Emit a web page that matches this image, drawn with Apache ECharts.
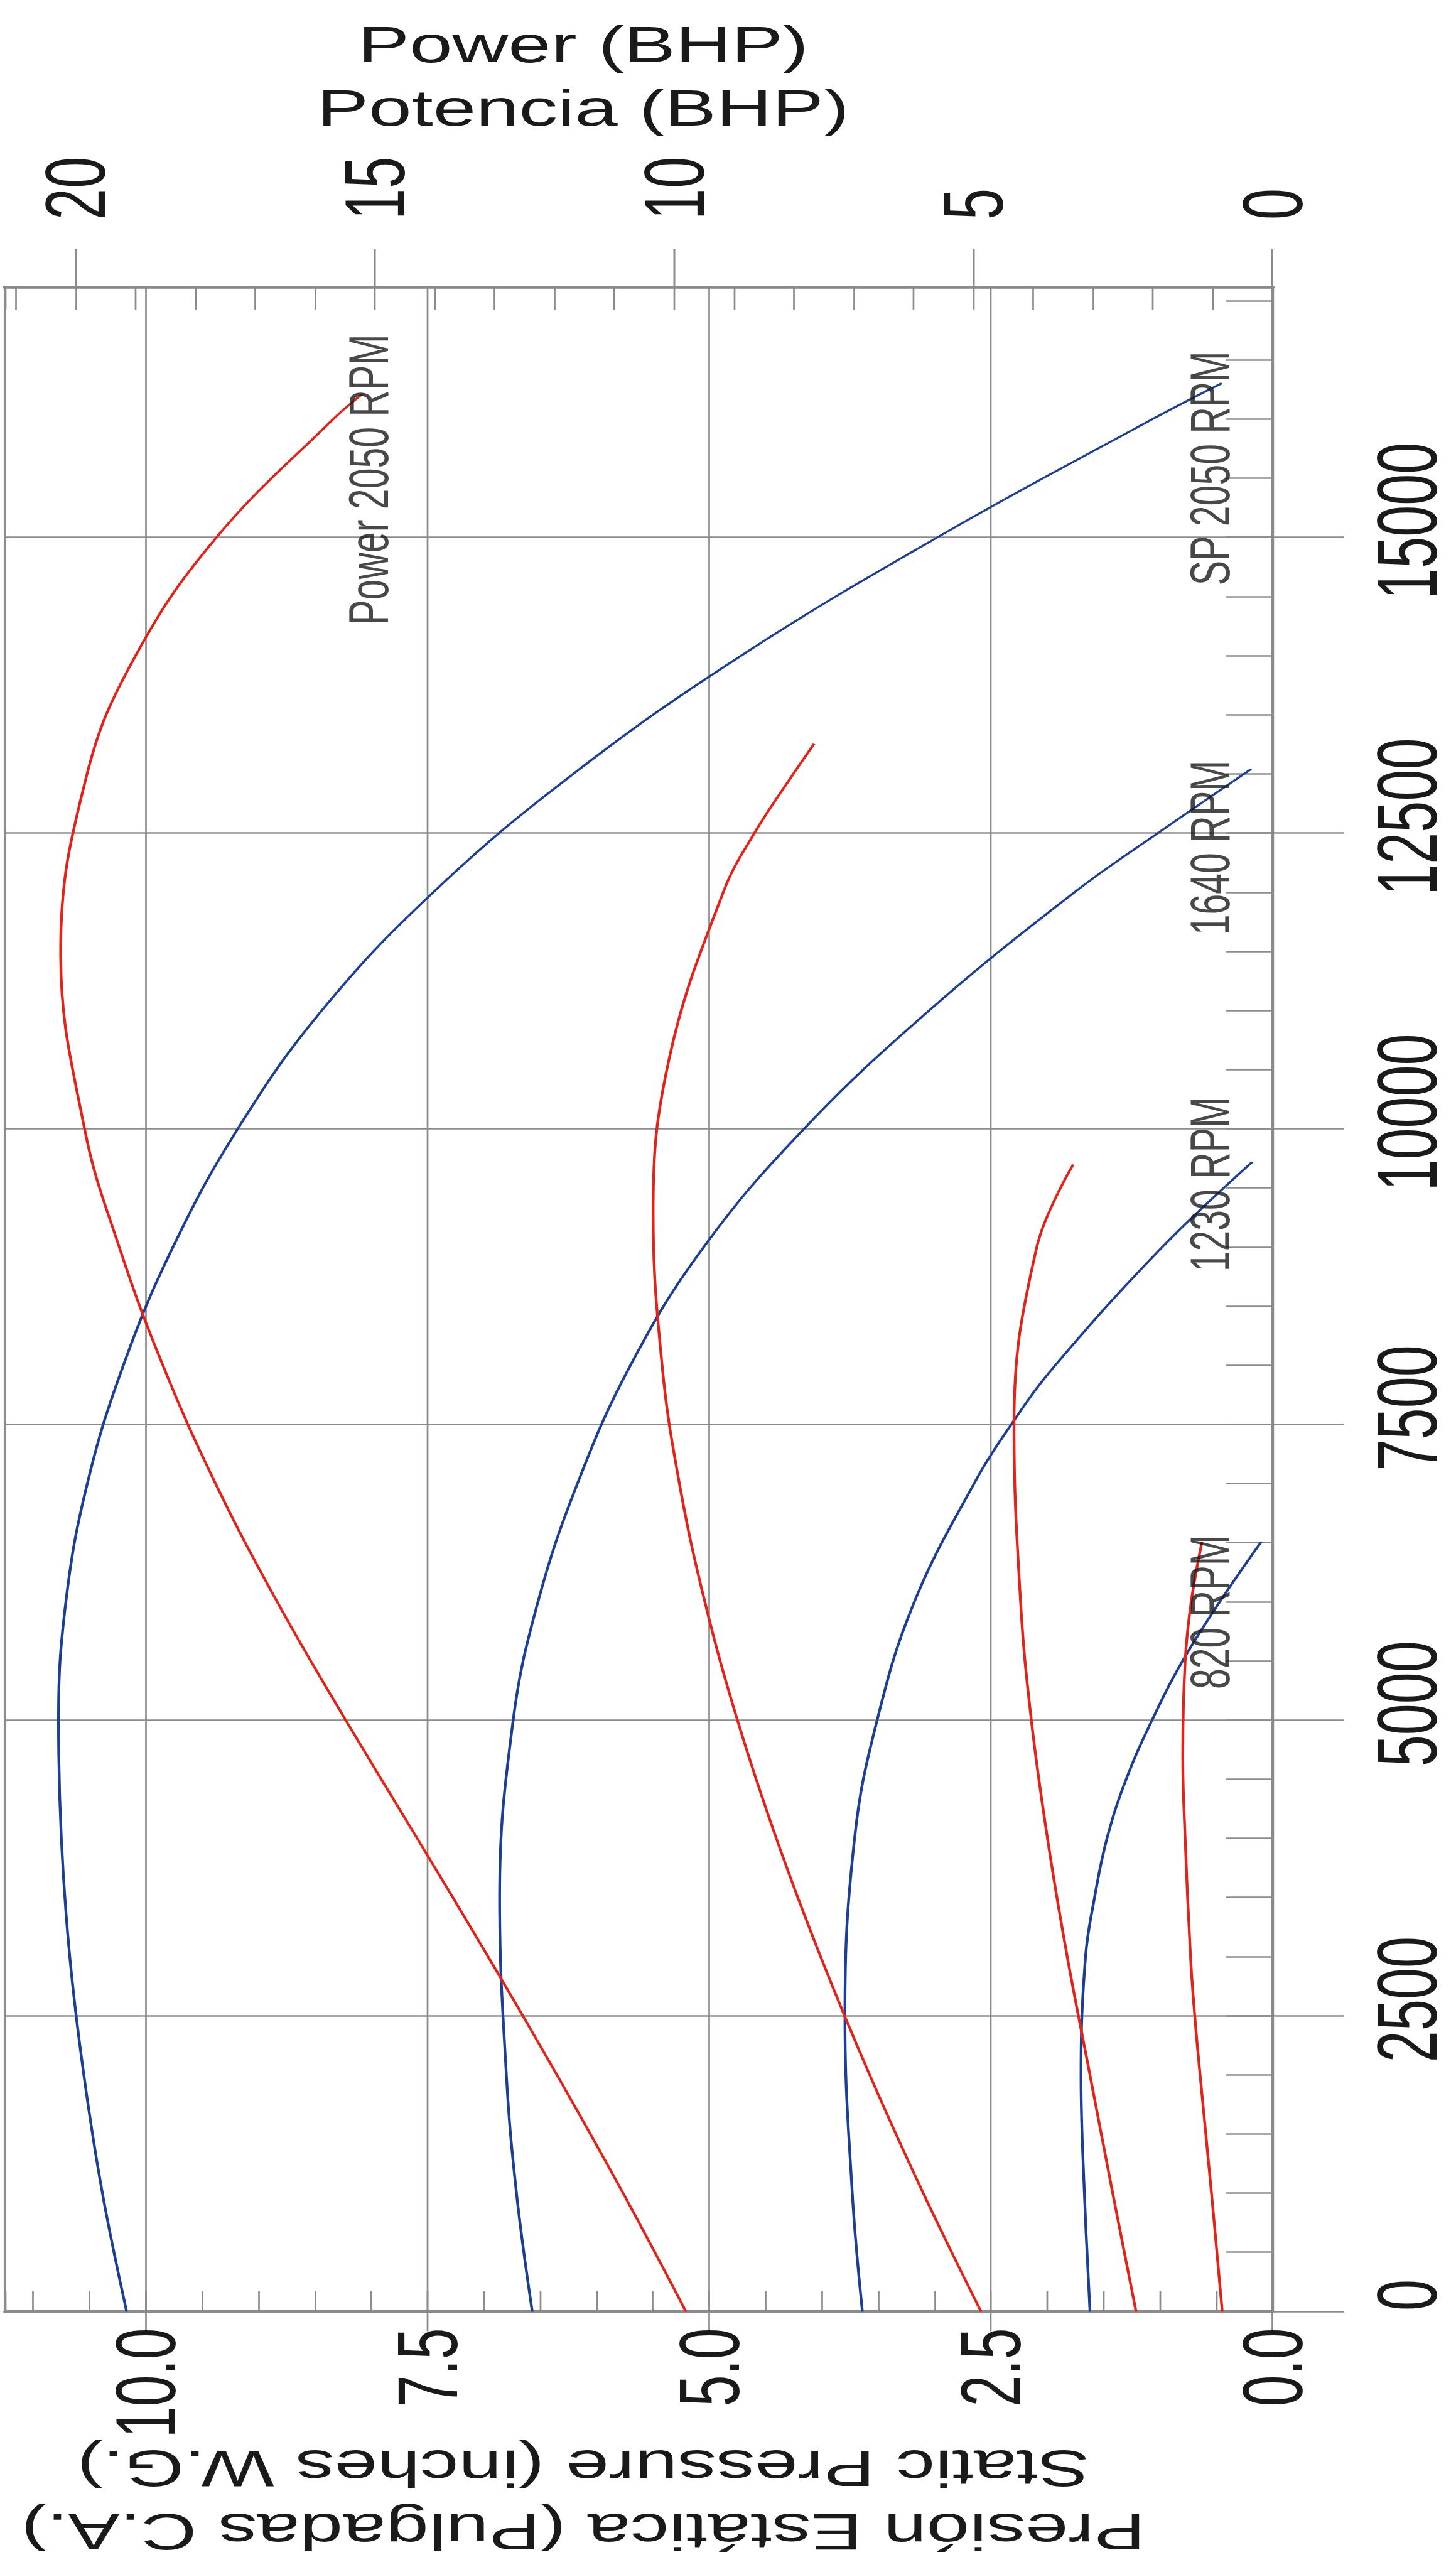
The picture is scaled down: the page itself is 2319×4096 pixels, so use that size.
<!DOCTYPE html>
<html>
<head>
<meta charset="utf-8">
<title>Fan performance curves</title>
<script src="https://cdn.jsdelivr.net/npm/echarts@6/dist/echarts.min.js"></script>
<style>
  html, body { margin: 0; padding: 0; background: #ffffff; overflow: hidden; width: 2319px; height: 4096px; }
  #stage { position: relative; width: 2319px; height: 4096px; overflow: hidden; }
  /* The chart is laid out landscape and turned a quarter turn, stretched across the pressure direction. */
  #chart { position: absolute; left: 0; top: 0; width: 4096px; height: 1546px;
           transform-origin: 0 0; transform: translate(0, 4096px) rotate(-90deg) scaleY(1.5); }
</style>
</head>
<body>
<div id="stage"><div id="chart"></div></div>
<script>
// ---- axis ranges and tick labels ----
const FLOW_MAX = 17115;
const PRESSURE_MAX = 11.25;
const POWER_MAX = 21.18;
const flowTicks = [0, 2500, 5000, 7500, 10000, 12500, 15000];
const pressureTicks = [0, 2.5, 5, 7.5, 10];
const powerTicks = [0, 5, 10, 15, 20];

const pressureTitle = ['Presión Estática (Pulgadas C.A.)', 'Static Pressure (inches W.G.)'];
const powerTitle = ['Power (BHP)', 'Potencia (BHP)'];

// ---- static pressure curves (airflow, inches W.G.) ----
const sp2050Flow = [0, 1000, 2000, 3000, 4000, 5000, 6000, 7000, 8000, 9000, 10000, 11000, 12000, 13000, 14000, 15000, 16000, 16306];
const sp2050 = [10.17, 10.385, 10.55, 10.675, 10.75, 10.775, 10.71, 10.52, 10.20, 9.76, 9.185, 8.44, 7.45, 6.21, 4.72, 2.98, 1.07, 0.45];

const sp1640Flow = [0, 1000, 2000, 3500, 5000, 6000, 7000, 8000, 9000, 10000, 11000, 12000, 12500, 13043];
const sp1640 = [6.57, 6.71, 6.80, 6.86, 6.74, 6.52, 6.17, 5.70, 5.05, 4.16, 3.05, 1.76, 1.02, 0.19];

const sp1230Flow = [0, 1000, 2500, 4000, 5000, 6000, 7000, 7500, 8000, 9000, 9722];
const sp1230 = [3.64, 3.73, 3.795, 3.71, 3.51, 3.18, 2.65, 2.32, 1.93, 0.98, 0.18];

const sp820Flow = [0, 1000, 2000, 3000, 3500, 4000, 4500, 5000, 5500, 6000, 6510];
const sp820 = [1.62, 1.67, 1.70, 1.66, 1.58, 1.47, 1.30, 1.07, 0.80, 0.47, 0.10];

// ---- power curves (airflow, BHP) ----
const pw2050Flow = [0, 1000, 2000, 3000, 4000, 5000, 6000, 7000, 8000, 9000, 10000, 11500, 13000, 14000, 15000, 16000, 16218];
const pw2050 = [9.80, 10.85, 11.955, 13.105, 14.29, 15.485, 16.63, 17.66, 18.54, 19.27, 19.85, 20.25, 19.81, 19.00, 17.65, 15.70, 15.20];

const pw1640Flow = [0, 1000, 2000, 3000, 4000, 5000, 6000, 7000, 8000, 9300, 10600, 12000, 12500, 13000, 13257];
const pw1640 = [4.87, 5.835, 6.73, 7.55, 8.29, 8.94, 9.485, 9.91, 10.20, 10.35, 10.08, 9.18, 8.66, 8.01, 7.66];

const pw1230Flow = [0, 1000, 2000, 3000, 4000, 5000, 6000, 7500, 9000, 9700];
const pw1230 = [2.28, 2.67, 3.05, 3.43, 3.76, 4.03, 4.21, 4.32, 3.94, 3.33];

const pw820Flow = [0, 1000, 2000, 2500, 3000, 4000, 4700, 5500, 6000, 6505];
const pw820 = [0.84, 1.02, 1.21, 1.30, 1.37, 1.46, 1.50, 1.46, 1.36, 1.18];

// ---- curve captions ----
const spLabels = ['SP 2050 RPM', '1640 RPM', '1230 RPM', '820 RPM'];
const powerLabels = ['Power 2050 RPM'];
// where each caption starts: [airflow, axis value at the text's middle]
const captionAnchors = {
  'SP 2050 RPM': [14594, 0.552],
  '1640 RPM': [11636, 0.552],
  '1230 RPM': [8790, 0.552],
  '820 RPM': [5261, 0.552],
  'Power 2050 RPM': [14262, 15.10]
};

// ---- styling ----
const GRAY = '#8b8b8b';
const INK = '#1a1a1a';
const BLUE = '#1c3f94';
const RED = '#e2231a';
const FONT = "'Liberation Sans', Arial, Helvetica, sans-serif";

const zip = (xs, ys) => xs.map((x, i) => [x, ys[i]]);

function curve(name, xs, ys, yAxisIndex, color) {
  return {
    type: 'line', name, xAxisIndex: 0, yAxisIndex,
    data: zip(xs, ys),
    symbol: 'none', smooth: 0.4,
    lineStyle: { color, width: 2.9 },
    silent: true, z: 5
  };
}

function captions(texts, yAxisIndex) {
  return {
    type: 'scatter', xAxisIndex: 0, yAxisIndex,
    symbolSize: 1, itemStyle: { color: 'rgba(0,0,0,0)' },
    data: texts.map(t => ({ name: t, value: captionAnchors[t] })),
    label: {
      show: true, formatter: '{b}', position: 'right', distance: 0,
      fontSize: 59, color: INK, fontFamily: FONT
    },
    silent: true, z: 6
  };
}

const chart = echarts.init(document.getElementById('chart'), null, { renderer: 'svg', width: 4096, height: 1546 });

chart.setOption({
  animation: false,
  backgroundColor: '#ffffff',
  grid: {
    left: 414.6, right: 457.9, top: 5.3, bottom: 194.8,
    show: true, borderColor: GRAY, borderWidth: 2.7, backgroundColor: 'rgba(0,0,0,0)',
    containLabel: false, outerBoundsMode: 'none'
  },
  xAxis: [
    {
      type: 'value', min: 0, max: FLOW_MAX, interval: 2500, position: 'bottom',
      axisLine: { show: true, onZero: false, lineStyle: { color: GRAY, width: 2.6 } },
      axisTick: { show: true, inside: false, length: 75.6, customValues: flowTicks, lineStyle: { color: GRAY, width: 2.7 } },
      axisLabel: {
        show: true, customValues: flowTicks, formatter: v => String(v),
        margin: 98, fontSize: 90, lineHeight: 90, color: INK, fontFamily: FONT, padding: [0, 0, 0, 53]
      },
      splitLine: { show: true, lineStyle: { color: GRAY, width: 2.7 } }
    },
    {
      type: 'value', min: 0, max: FLOW_MAX, interval: 500, position: 'bottom',
      axisLine: { show: false, onZero: false },
      axisTick: { show: true, inside: true, length: 49.5, lineStyle: { color: GRAY, width: 2.7 } },
      axisLabel: { show: false },
      splitLine: { show: false }
    }
  ],
  yAxis: [
    {
      type: 'value', min: 0, max: PRESSURE_MAX, interval: 2.5, position: 'left',
      name: pressureTitle.join('\n'), nameLocation: 'middle', nameRotate: 90, nameGap: 200, nameMoveOverlap: false,
      nameTextStyle: { fontSize: 82, lineHeight: 101, color: INK, fontFamily: FONT, padding: [0, 0, 0, 118] },
      axisLine: { show: true, onZero: false, lineStyle: { color: GRAY, width: 4 } },
      axisTick: { show: true, inside: false, length: 31, customValues: pressureTicks, lineStyle: { color: GRAY, width: 1.8 } },
      axisLabel: {
        show: true, customValues: pressureTicks, formatter: v => v.toFixed(1),
        margin: 26, fontSize: 90, lineHeight: 90, color: INK, fontFamily: FONT, padding: [10, 0, 0, 0]
      },
      splitLine: { show: true, lineStyle: { color: GRAY, width: 1.8 } }
    },
    {
      type: 'value', min: 0, max: POWER_MAX, interval: 5, position: 'right',
      name: powerTitle.join('\n'), nameLocation: 'middle', nameRotate: -90, nameGap: 236, nameMoveOverlap: false,
      nameTextStyle: { fontSize: 82, lineHeight: 101, color: INK, fontFamily: FONT, padding: [0, 118, 0, 0] },
      axisLine: { show: true, onZero: false, lineStyle: { color: GRAY, width: 4.5 } },
      axisTick: { show: true, inside: false, length: 61, customValues: powerTicks, lineStyle: { color: GRAY, width: 2 } },
      axisLabel: {
        show: true, customValues: powerTicks, formatter: v => String(v),
        margin: 108, fontSize: 90, lineHeight: 90, color: INK, fontFamily: FONT, padding: [10, 0, 0, 0]
      },
      splitLine: { show: false }
    },
    {
      type: 'value', min: 0, max: PRESSURE_MAX, interval: 0.5, position: 'left',
      axisLine: { show: false, onZero: false },
      axisTick: { show: true, inside: true, length: 33, lineStyle: { color: GRAY, width: 1.8 } },
      axisLabel: { show: false },
      splitLine: { show: false }
    },
    {
      type: 'value', min: 0, max: POWER_MAX, interval: 1, position: 'right',
      axisLine: { show: false, onZero: false },
      axisTick: { show: true, inside: true, length: 35.5, lineStyle: { color: GRAY, width: 1.8 } },
      axisLabel: { show: false },
      splitLine: { show: false }
    }
  ],
  series: [
    curve('SP 2050 RPM', sp2050Flow, sp2050, 0, BLUE),
    curve('SP 1640 RPM', sp1640Flow, sp1640, 0, BLUE),
    curve('SP 1230 RPM', sp1230Flow, sp1230, 0, BLUE),
    curve('SP 820 RPM', sp820Flow, sp820, 0, BLUE),
    curve('Power 2050 RPM', pw2050Flow, pw2050, 1, RED),
    curve('Power 1640 RPM', pw1640Flow, pw1640, 1, RED),
    curve('Power 1230 RPM', pw1230Flow, pw1230, 1, RED),
    curve('Power 820 RPM', pw820Flow, pw820, 1, RED),
    captions(spLabels, 0),
    captions(powerLabels, 1)
  ]
});
</script>
</body>
</html>
